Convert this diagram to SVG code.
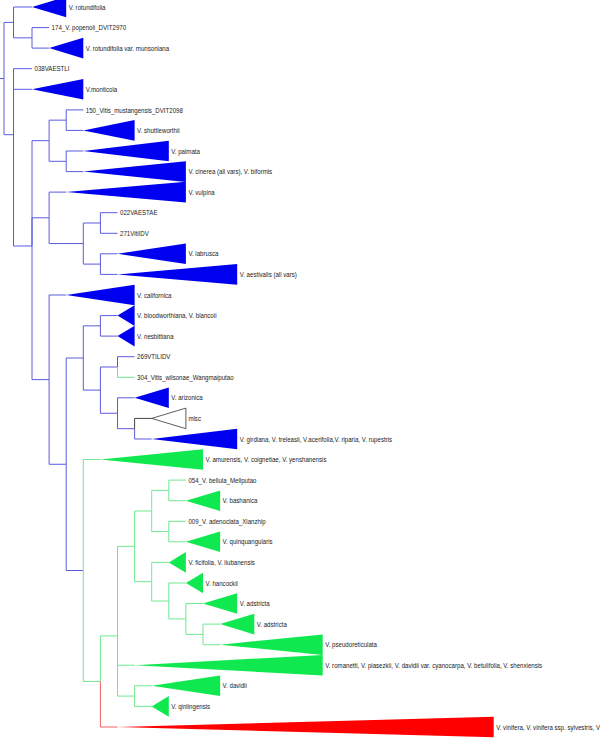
<svg xmlns="http://www.w3.org/2000/svg" width="600" height="738" viewBox="0 0 600 738">
<style>
.b{fill:none;stroke:#5a5ae0;stroke-width:1}
.g{fill:none;stroke:#70e890;stroke-width:1}
.r{fill:none;stroke:#f06060;stroke-width:1}
.k{fill:none;stroke:#444;stroke-width:1}
.tb{fill:#0000f0}
.tg{fill:#10e850}
.tr{fill:#ff0000}
.tw{fill:#fff;stroke:#333;stroke-width:0.8}
text{font-family:"Liberation Sans",Arial,sans-serif;font-size:7.2px;fill:#222}
</style>
<rect width="600" height="738" fill="#fff"/>
<g id="connectors">
<path class="b" d="M0,78.5H4 M4,78.5V22.4H13.5 M4,78.5V134.7H13.5"/>
<path class="b" d="M13.5,22.4V7H32 M13.5,22.4V37.85H32 M32,37.85V27.6H49.1 M32,37.85V48.1H49.1"/>
<path class="b" d="M13.5,134.7V68.7H32 M13.5,134.7V89.3H32 M13.5,134.7V246H32"/>
<path class="b" d="M32,246V140.7H49.1 M32,246V217.8H49.1 M32,246V379.6H49.1"/>
<path class="b" d="M49.1,140.7V120.15H66.2 M49.1,140.7V161.3H66.2 M66.2,120.15V109.9H83.3 M66.2,120.15V130.4H83.3 M66.2,161.3V151H83.3 M66.2,161.3V171.6H83.3"/>
<path class="b" d="M49.1,217.8V192.1H66.2 M49.1,217.8V243.55H83.3 M83.3,243.55V223H100.4 M83.3,243.55V264.1H100.4 M100.4,223V212.7H117.5 M100.4,223V233.3H117.5 M100.4,264.1V253.8H117.5 M100.4,264.1V274.4H117.5"/>
<path class="b" d="M49.1,379.6V295H66.2 M49.1,379.6V464.25H66.2 M66.2,464.25V358H83.3 M66.2,464.25V570.5H83.3"/>
<path class="b" d="M83.3,358V325.85H100.4 M83.3,358V390.1H100.4 M100.4,325.85V315.6H117.5 M100.4,325.85V336.1H117.5 M100.4,390.1V367H117.5 M100.4,390.1V413.25H117.5 M117.5,367V356.7H134.6 M117.5,413.25V397.8H134.6 M117.5,413.25V428.7H134.6 M134.6,428.7V439H151.7"/>
<path class="g" d="M117.5,367V377.3H134.6"/>
<path class="k" d="M134.6,428.7V418.4H151.7"/>
<path class="g" d="M83.3,570.5V459.5H100.4 M83.3,570.5V681.45H100.4 M100.4,681.45V635.9H117.5"/>
<path class="r" d="M100.4,681.45V727H117.5"/>
<path class="g" d="M117.5,635.9V546.35H134.6 M117.5,635.9V665.2H134.6 M117.5,635.9V696.1H134.6 M134.6,546.35V511H151.7 M134.6,546.35V581.7H151.7 M151.7,511V490.4H168.8 M151.7,511V531.55H168.8 M168.8,490.4V480.1H185.9 M168.8,490.4V500.7H185.9 M168.8,531.55V521.3H185.9 M168.8,531.55V541.8H185.9"/>
<path class="g" d="M151.7,581.7V562.4H168.8 M151.7,581.7V601H168.8 M168.8,601V583H185.9 M168.8,601V618.95H185.9 M185.9,618.95V603.5H203 M185.9,618.95V634.4H203 M203,634.4V624.1H220.1 M203,634.4V644.7H220.1 M134.6,696.1V685.8H151.7 M134.6,696.1V706.4H151.7"/>
</g>
<g id="tip-rotundifolia"><polygon class="tb" points="32,7 66.2,-3.3 66.2,17.3"/><text transform="translate(68.7 9.6) scale(0.85 1)">V. rotundifolia</text></g>
<g id="tip-popenoii"><text transform="translate(51.6 30.2) scale(0.85 1)">174_V. popenoii_DVIT2970</text></g>
<g id="tip-munsoniana"><polygon class="tb" points="49.1,48.1 83.3,37.8 83.3,58.4"/><text transform="translate(85.8 50.7) scale(0.85 1)">V. rotundifolia var. munsoniana</text></g>
<g id="tip-038"><text transform="translate(34.5 71.3) scale(0.85 1)">038VAESTLI</text></g>
<g id="tip-monticola"><polygon class="tb" points="32,89.3 83.3,79 83.3,99.6"/><text transform="translate(85.8 91.9) scale(0.85 1)">V.monticola</text></g>
<g id="tip-150"><text transform="translate(85.8 112.5) scale(0.85 1)">150_Vitis_mustangensis_DVIT2098</text></g>
<g id="tip-shuttleworthii"><polygon class="tb" points="83.3,130.4 134.6,120.1 134.6,140.7"/><text transform="translate(137.1 133) scale(0.85 1)">V. shuttleworthii</text></g>
<g id="tip-palmata"><polygon class="tb" points="83.3,151 168.8,140.7 168.8,161.3"/><text transform="translate(171.3 153.6) scale(0.85 1)">V. palmata</text></g>
<g id="tip-cinerea"><polygon class="tb" points="83.3,171.6 185.9,161.3 185.9,181.9"/><text transform="translate(188.4 174.2) scale(0.85 1)">V. cinerea (all vars), V. biformis</text></g>
<g id="tip-vulpina"><polygon class="tb" points="66.2,192.1 185.9,181.8 185.9,202.4"/><text transform="translate(188.4 194.7) scale(0.85 1)">V. vulpina</text></g>
<g id="tip-022"><text transform="translate(120 215.3) scale(0.85 1)">022VAESTAE</text></g>
<g id="tip-271"><text transform="translate(120 235.9) scale(0.85 1)">271VitiIDV</text></g>
<g id="tip-labrusca"><polygon class="tb" points="117.5,253.8 185.9,243.5 185.9,264.1"/><text transform="translate(188.4 256.4) scale(0.85 1)">V. labrusca</text></g>
<g id="tip-aestivalis"><polygon class="tb" points="117.5,274.4 237.2,264.1 237.2,284.7"/><text transform="translate(239.7 277) scale(0.85 1)">V. aestivalis (all vars)</text></g>
<g id="tip-californica"><polygon class="tb" points="66.2,295 134.6,284.7 134.6,305.3"/><text transform="translate(137.1 297.6) scale(0.85 1)">V. californica</text></g>
<g id="tip-bloodworthiana"><polygon class="tb" points="117.5,315.6 134.6,305.3 134.6,325.9"/><text transform="translate(137.1 318.2) scale(0.85 1)">V. bloodworthiana, V. blancoii</text></g>
<g id="tip-nesbittiana"><polygon class="tb" points="117.5,336.1 134.6,325.8 134.6,346.4"/><text transform="translate(137.1 338.7) scale(0.85 1)">V. nesbittiana</text></g>
<g id="tip-269"><text transform="translate(137.1 359.3) scale(0.85 1)">269VTILIDV</text></g>
<g id="tip-304"><text transform="translate(137.1 379.9) scale(0.85 1)">304_Vitis_wilsonae_Wangmaiputao</text></g>
<g id="tip-arizonica"><polygon class="tb" points="134.6,397.8 168.8,387.5 168.8,408.1"/><text transform="translate(171.3 400.4) scale(0.85 1)">V. arizonica</text></g>
<g id="tip-misc"><polygon class="tw" points="151.7,418.4 185.9,408.1 185.9,428.7"/><text transform="translate(188.4 421) scale(0.85 1)">misc</text></g>
<g id="tip-girdiana"><polygon class="tb" points="151.7,439 237.2,428.7 237.2,449.3"/><text transform="translate(239.7 441.6) scale(0.85 1)">V. girdiana, V. treleasii, V.acerifolia,V. riparia, V. rupestris</text></g>
<g id="tip-amurensis"><polygon class="tg" points="100.4,459.5 203,449.2 203,469.8"/><text transform="translate(205.5 462.1) scale(0.85 1)">V. amurensis, V. coignetiae, V. yenshanensis</text></g>
<g id="tip-054"><text transform="translate(188.4 482.7) scale(0.85 1)">054_V. bellula_Mellputao</text></g>
<g id="tip-bashanica"><polygon class="tg" points="185.9,500.7 220.1,490.4 220.1,511"/><text transform="translate(222.6 503.3) scale(0.85 1)">V. bashanica</text></g>
<g id="tip-009"><text transform="translate(188.4 523.9) scale(0.85 1)">009_V. adenoclata_Xianzhip</text></g>
<g id="tip-quinquangularis"><polygon class="tg" points="185.9,541.8 220.1,531.5 220.1,552.1"/><text transform="translate(222.6 544.4) scale(0.85 1)">V. quinquangularis</text></g>
<g id="tip-ficifolia"><polygon class="tg" points="168.8,562.4 185.9,552.1 185.9,572.7"/><text transform="translate(188.4 565) scale(0.85 1)">V. ficifolia, V. liubanensis</text></g>
<g id="tip-hancockii"><polygon class="tg" points="185.9,583 203,572.7 203,593.3"/><text transform="translate(205.5 585.6) scale(0.85 1)">V. hancockii</text></g>
<g id="tip-adstricta1"><polygon class="tg" points="203,603.5 237.2,593.2 237.2,613.8"/><text transform="translate(239.7 606.1) scale(0.85 1)">V. adstricta</text></g>
<g id="tip-adstricta2"><polygon class="tg" points="220.1,624.1 254.3,613.8 254.3,634.4"/><text transform="translate(256.8 626.7) scale(0.85 1)">V. adstricta</text></g>
<g id="tip-pseudoreticulata"><polygon class="tg" points="220.1,644.7 322.7,634.4 322.7,655"/><text transform="translate(325.2 647.3) scale(0.85 1)">V. pseudoreticulata</text></g>
<g id="tip-romanetti"><polygon class="tg" points="134.6,665.2 322.7,654.9 322.7,675.5"/><text transform="translate(325.2 667.8) scale(0.85 1)">V. romanetti, V. piasezkii, V. davidii var. cyanocarpa, V. betulifolia, V. shenxiensis</text></g>
<g id="tip-davidii"><polygon class="tg" points="151.7,685.8 220.1,675.5 220.1,696.1"/><text transform="translate(222.6 688.4) scale(0.85 1)">V. davidii</text></g>
<g id="tip-qinlingensis"><polygon class="tg" points="151.7,706.4 168.8,696.1 168.8,716.7"/><text transform="translate(171.3 709) scale(0.85 1)">V. qinlingensis</text></g>
<g id="tip-vinifera"><polygon class="tr" points="117.5,727 493.7,716.7 493.7,737.3"/><text transform="translate(496.2 729.6) scale(0.85 1)">V. vinifera, V. vinifera ssp. sylvestris, V</text></g>
</svg>
